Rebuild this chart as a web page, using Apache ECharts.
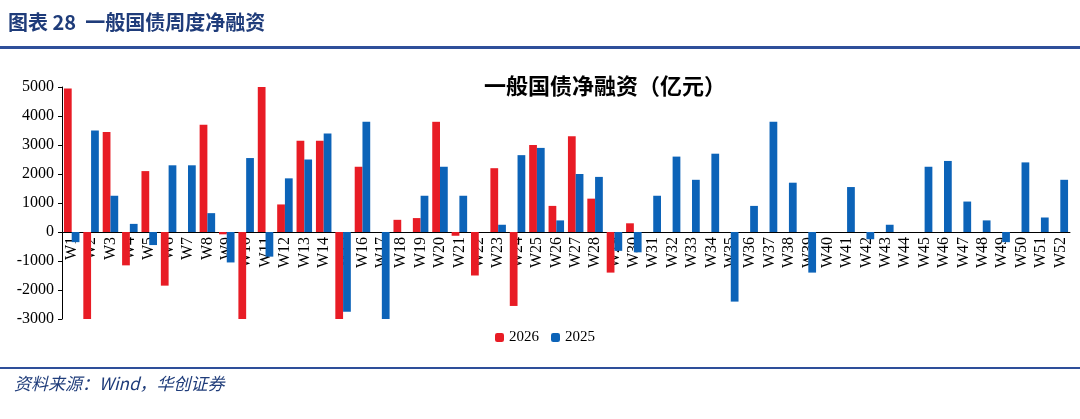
<!DOCTYPE html>
<html><head><meta charset="utf-8">
<script src="https://cdn.jsdelivr.net/npm/echarts@6/dist/echarts.min.js"></script>
<style>html,body{margin:0;padding:0;background:#fff}#c{width:1080px;height:419px}</style>
</head><body><div id="c"></div>
<script>
var categories = [];
for (var i = 1; i <= 52; i++) categories.push('W' + i);
var s2026 = [4950,-3000,3450,-1150,2100,-1850,null,3700,-80,-3050,5000,950,3150,3150,-3050,2250,null,420,480,3800,-130,-1500,2200,-2550,3000,900,3300,1150,-1400,300];
var s2025 = [-350,3500,1250,280,-450,2300,2300,650,-1050,2550,-850,1850,2500,3400,-2750,3800,-3050,null,1250,2250,1250,null,250,2650,2900,400,2000,1900,-650,-700,1250,2600,1800,2700,-2400,900,3800,1700,-1400,null,1550,-250,250,null,2250,2450,1050,400,-350,2400,500,1800];
var serif = '"Liberation Serif","Times New Roman",serif';
var chart = echarts.init(document.getElementById('c'));
chart.setOption({
  animation:false,
  title:{text:'一般国债净融资（亿元）',left:600,top:70,textAlign:'center',textStyle:{fontFamily:'"Noto Sans CJK SC"',fontSize:22,fontWeight:'bold',color:'#000'}},
  graphic:[
    {type:'text',left:8,top:12,style:{text:'图表 28  一般国债周度净融资',font:'bold 20px "Noto Sans CJK SC"',fill:'#1f3c7a'}},
    {type:'rect',shape:{x:0,y:46,width:1080,height:3},style:{fill:'#2e4f9a'}},
    {type:'rect',shape:{x:0,y:367,width:1080,height:2},style:{fill:'#2e4f9a'}},
    {type:'text',left:14,top:375,style:{text:'资料来源：Wind，华创证券',font:'italic 17px "Noto Sans CJK SC"',fill:'#1f3c7a'}}
  ],
  legend:{data:['2026','2025'],top:325,left:490,itemWidth:9,itemHeight:9,itemGap:12,textStyle:{fontFamily:serif,fontSize:15,color:'#000'}},
  grid:{left:62,right:10,top:87,bottom:100},
  xAxis:{type:'category',data:categories,offset:-87,axisTick:{show:false},axisLine:{onZero:false,lineStyle:{color:'#000'}},
    axisLabel:{rotate:90,interval:0,fontFamily:serif,fontSize:16,color:'#000',margin:5}},
  yAxis:{type:'value',min:-3000,max:5000,interval:1000,splitLine:{show:false},
    axisLine:{show:true,lineStyle:{color:'#000'}},axisTick:{show:true,length:4},
    axisLabel:{fontFamily:serif,fontSize:16,color:'#000',formatter:function(v){return String(v);}}},
  series:[
    {name:'2026',type:'bar',data:s2026,barWidth:'40%',barGap:'0%',itemStyle:{color:'#e81c25'}},
    {name:'2025',type:'bar',data:s2025,barWidth:'40%',itemStyle:{color:'#0c63b8'}}
  ]
});
</script></body></html>
